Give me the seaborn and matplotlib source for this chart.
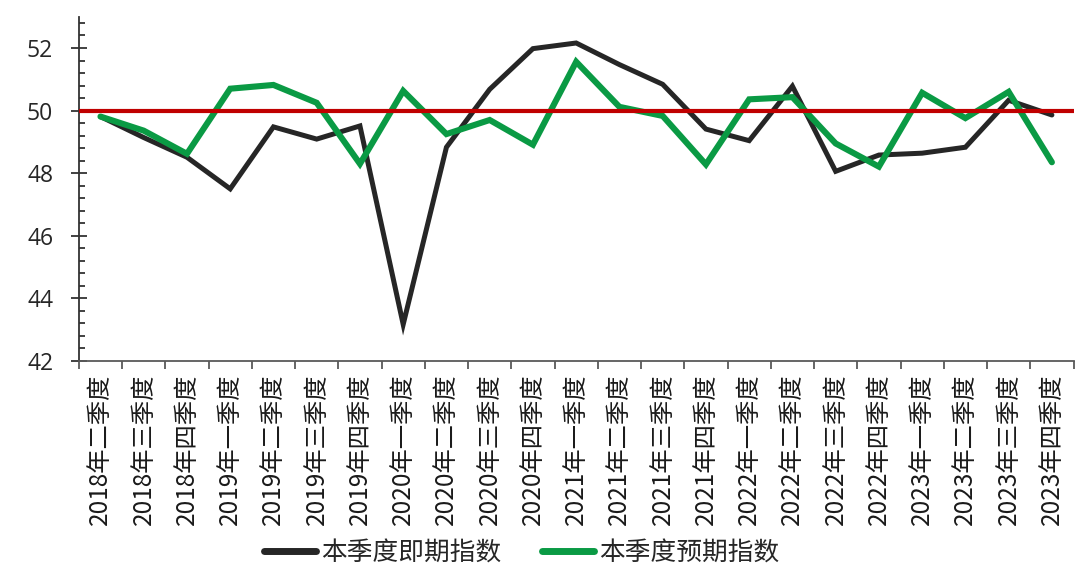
import numpy as np
import pandas as pd
import seaborn as sns
import matplotlib.pyplot as plt
from matplotlib.ticker import MultipleLocator, FixedLocator

quarters = ['2018年二季度', '2018年三季度', '2018年四季度',
            '2019年一季度', '2019年二季度', '2019年三季度', '2019年四季度',
            '2020年一季度', '2020年二季度', '2020年三季度', '2020年四季度',
            '2021年一季度', '2021年二季度', '2021年三季度', '2021年四季度',
            '2022年一季度', '2022年二季度', '2022年三季度', '2022年四季度',
            '2023年一季度', '2023年二季度', '2023年三季度', '2023年四季度']

current_idx = [49.81, 49.14, 48.51, 47.50, 49.48, 49.09, 49.51,
               43.17, 48.83, 50.68, 51.98,
               52.16, 51.47, 50.84, 49.41,
               49.04, 50.78, 48.06, 48.58,
               48.64, 48.83, 50.33, 49.86]

expected_idx = [49.81, 49.36, 48.62, 50.70, 50.82, 50.25, 48.30,
                50.63, 49.25, 49.70, 48.91,
                51.56, 50.12, 49.83, 48.28,
                50.36, 50.43, 48.95, 48.21,
                50.57, 49.76, 50.60, 48.35]

series_names = ['本季度即期指数', '本季度预期指数']
baseline = 50

df = pd.DataFrame({
    '季度': quarters * 2,
    '指数': current_idx + expected_idx,
    '系列': [series_names[0]] * len(quarters) + [series_names[1]] * len(quarters),
})

sns.set_theme(style='white')
plt.rcParams['font.family'] = ['Open Sans', 'Noto Sans CJK SC', 'DejaVu Sans']

fig = plt.figure(figsize=(10.8, 5.78), dpi=100)
ax = fig.add_axes([0.073, 0.3754, 0.921, 0.5957])

palette = {series_names[0]: '#262626', series_names[1]: '#0a9a44'}
sns.lineplot(data=df, x='季度', y='指数', hue='系列', palette=palette,
             sort=False, ax=ax, legend=False)
ax.lines[0].set_linewidth(3.6)
ax.lines[1].set_linewidth(4.4)
for ln in ax.lines:
    ln.set_solid_joinstyle('miter')

ax.axhline(baseline, color='#c00000', lw=3.0, zorder=5)

ax.set_xlim(-0.5, len(quarters) - 0.5)
ax.set_ylim(42, 53)
ax.set_xlabel('')
ax.set_ylabel('')

ax.set_yticks(np.arange(42, 53, 2))
ax.yaxis.set_minor_locator(MultipleLocator(0.4))
ax.tick_params(axis='y', which='major', direction='inout', length=11, width=1.3,
               color='#333333', labelsize=16.5, labelcolor='#262626', pad=13, left=True)
ax.tick_params(axis='y', which='minor', direction='in', length=4.5, width=1.3,
               color='#333333', left=True)

ax.set_xticks(range(len(quarters)))
ax.set_xticklabels(quarters, rotation=90, family=['Noto Sans CJK SC'], fontsize=17.5,
                   color='#1a1a1a')
ax.xaxis.set_minor_locator(FixedLocator(np.arange(-0.5, len(quarters), 1)))
ax.tick_params(axis='x', which='major', length=0, pad=9)
ax.tick_params(axis='x', which='minor', direction='out', length=6, width=1.3,
               color='#595959', bottom=True)

for s in ['top', 'right']:
    ax.spines[s].set_visible(False)
ax.spines['left'].set_color('#333333')
ax.spines['left'].set_linewidth(1.3)
ax.spines['bottom'].set_color('#595959')
ax.spines['bottom'].set_linewidth(1.3)

handles = [plt.Line2D([], [], color=palette[n], lw=5) for n in series_names]
fig.legend(handles, series_names, loc='center', bbox_to_anchor=(0.483, 0.043),
           ncol=2, frameon=False, handlelength=2.0, handletextpad=0.2,
           columnspacing=1.6, prop={'family': ['Noto Sans CJK SC'], 'size': 18.5})

fig.savefig('out.png', dpi=100, facecolor='white')
